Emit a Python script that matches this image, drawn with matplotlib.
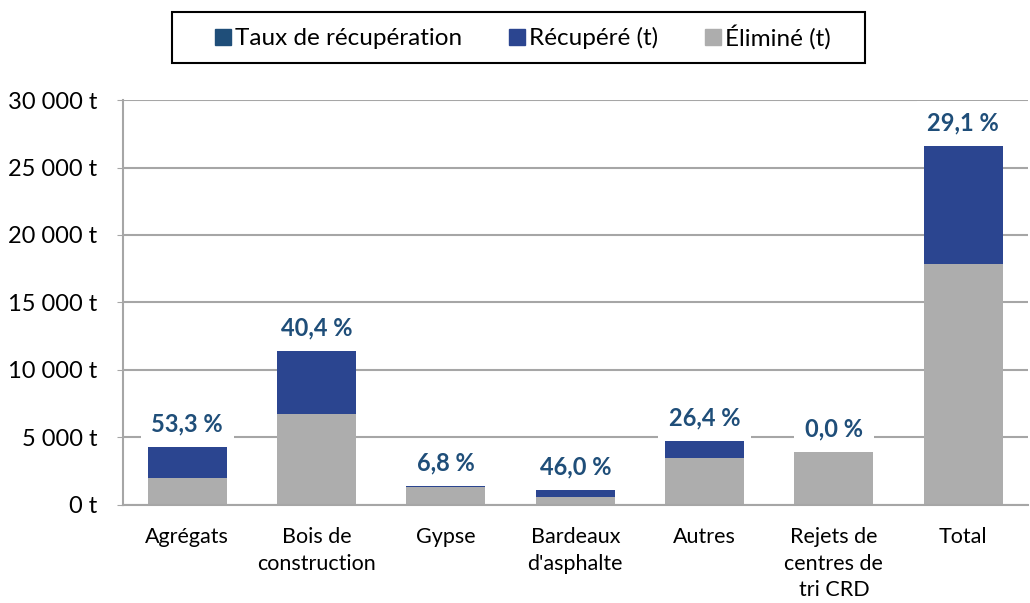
import matplotlib.pyplot as plt
from matplotlib.patches import Patch, Rectangle
from matplotlib.ticker import FuncFormatter

plt.rcParams['font.family'] = ['Lato', 'DejaVu Sans']

categories = ["Agrégats", "Bois de\nconstruction", "Gypse", "Bardeaux\nd'asphalte",
              "Autres", "Rejets de\ncentres de\ntri CRD", "Total"]
elimine = [2000, 6750, 1300, 590, 3480, 3920, 17850]
recupere = [2300, 4650, 100, 500, 1260, 0, 8750]
taux = ["53,3 %", "40,4 %", "6,8 %", "46,0 %", "26,4 %", "0,0 %", "29,1 %"]

grey = '#ADADAD'
blue = '#2B4590'
dark = '#1F4E79'
gridc = '#A6A6A6'

fig = plt.figure(figsize=(10.3, 6.03), dpi=100)
ax = fig.add_axes([0.119, 0.163, 0.879, 0.671])

x = range(len(categories))
ax.bar(x, elimine, width=0.61, color=grey, zorder=2)
ax.bar(x, recupere, width=0.61, bottom=elimine, color=blue, zorder=2)

for i in x:
    top = elimine[i] + recupere[i]
    ax.annotate(taux[i], (i, top), xytext=(0, 8), textcoords='offset points',
                ha='center', va='bottom', fontsize=17, fontweight='bold', color=dark,
                zorder=4, annotation_clip=False,
                bbox=dict(facecolor='white', edgecolor='none', boxstyle='square,pad=0.45'))

ax.set_ylim(0, 30000)
ax.set_xlim(-0.5, len(categories) - 0.5)
ax.set_yticks(range(0, 30001, 5000))
ax.yaxis.set_major_formatter(FuncFormatter(lambda v, p: f"{int(v):,} t".replace(',', ' ')))
ax.set_xticks(list(x))
ax.set_xticklabels(categories, fontsize=15.5, linespacing=1.42)
ax.tick_params(axis='y', labelsize=17, length=4, color=gridc, pad=14)
ax.tick_params(axis='x', length=0, pad=16)
ax.grid(axis='y', color=gridc, linewidth=1.5, zorder=0)
for s in ['top', 'right']:
    ax.spines[s].set_visible(False)
for s in ['left', 'bottom']:
    ax.spines[s].set_color(gridc)
    ax.spines[s].set_linewidth(1.5)

# legend frame drawn separately (Excel-like wide box)
fig.patches.append(Rectangle((172 / 1030, 1 - 63 / 603), 693 / 1030, 51 / 603,
                             transform=fig.transFigure, facecolor='white',
                             edgecolor='black', linewidth=1.5))
handles = [Patch(color=dark, label='Taux de récupération'),
           Patch(color=blue, label='Récupéré (t)'),
           Patch(color=grey, label='Éliminé (t)')]
fig.legend(handles=handles, loc='center', bbox_to_anchor=(523 / 1030, 1 - 37 / 603), ncol=3,
           fontsize=17.5, frameon=False, handlelength=0.65, handleheight=0.65,
           handletextpad=0.2, columnspacing=1.9, borderaxespad=0)

fig.savefig('out.png', dpi=100)
